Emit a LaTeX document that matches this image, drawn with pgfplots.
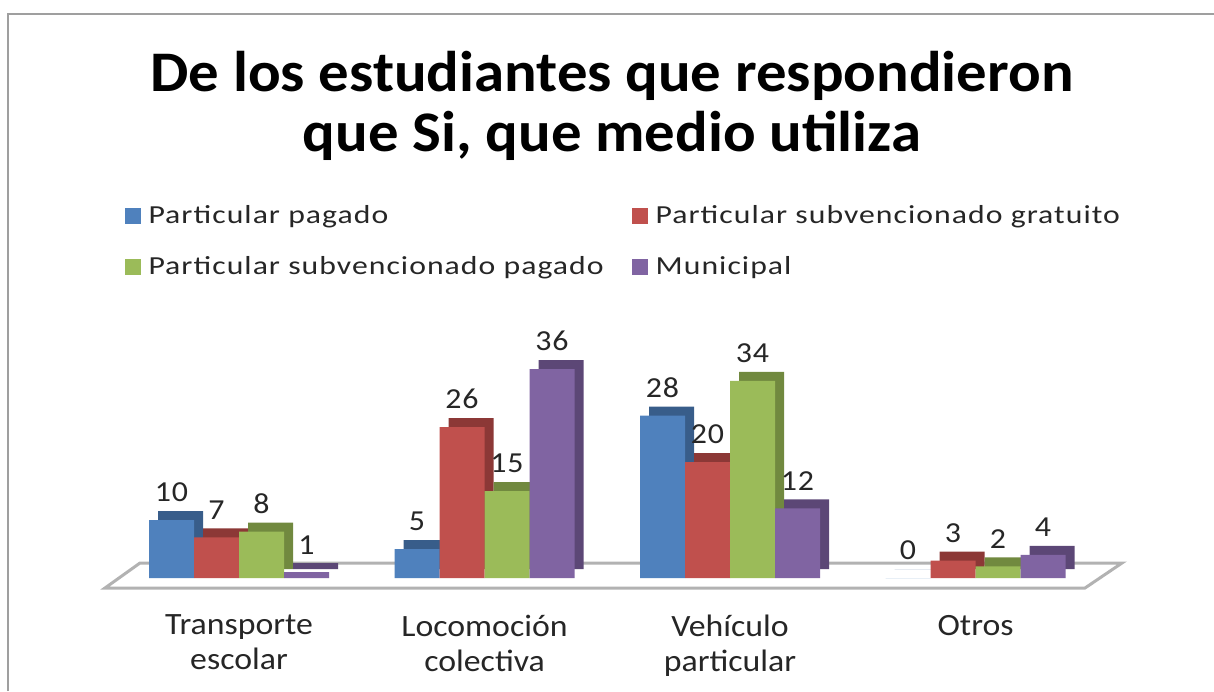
\documentclass[border=0pt]{standalone}
\usepackage{fontspec}
\setmainfont{Carlito}
\newfontfamily\lsLeg[FakeStretch=1.22, LetterSpace=4]{Carlito}
\newfontfamily\lsTick[FakeStretch=1.09]{Carlito}
\newfontfamily\lsLab[FakeStretch=1.1, LetterSpace=3]{Carlito}
\newfontfamily\lsTitle[FakeStretch=1.06]{Carlito}
\usepackage{pgfplots}
\pgfplotsset{compat=1.18}
\definecolor{cBlue}{HTML}{4F81BD}
\definecolor{cBlueD}{HTML}{385D8A}
\definecolor{cRed}{HTML}{C0504D}
\definecolor{cRedD}{HTML}{8C3836}
\definecolor{cGreen}{HTML}{9BBB59}
\definecolor{cGreenD}{HTML}{71893F}
\definecolor{cPurple}{HTML}{8064A2}
\definecolor{cPurpleD}{HTML}{5C4776}
\pgfplotsset{
  front/.style={draw=none, nodes near coords,
    legend image code/.code={\fill[##1] (0pt,-4pt) rectangle (8pt,4pt); \path (10pt,0pt);}},
  side/.style={draw=none, xshift=4.5pt, yshift=4.5pt, forget plot},
}
\begin{document}
\begin{tikzpicture}
\useasboundingbox (0pt,0pt) rectangle (607pt,345.5pt);
\draw[gray!75, line width=1.2pt] (4pt,0pt) -- (4pt,338.5pt) -- (607pt,338.5pt);
\node[font=\lsTitle\fontsize{28.7}{30}\selectfont\bfseries, align=center] at (306pt,292.5pt) {De los estudiantes que respondieron\\que Si, que medio utiliza};
\draw[gray!60, line width=1.5pt, fill=white] (52.5pt,51.5pt) -- (542.5pt,51.5pt) -- (561pt,64pt) -- (70pt,64pt) -- cycle;
\begin{axis}[at={(52pt,56.5pt)}, anchor=south west, scale only axis,
  width=503.3pt, height=116pt,
  xmin=-0.55, xmax=3.55, ymin=0, ymax=40,
  ybar, bar width=22.5pt,
  axis line style={draw=none}, ytick=\empty,
  xtick={0,1,2,3},
  xticklabels={Transporte\\escolar, Locomoción\\colectiva, Vehículo\\particular, Otros},
  xticklabel style={align=center, font=\lsTick\fontsize{15.5}{17.5}\selectfont, yshift=-15pt, text=black!85},
  major tick length=0pt, clip=false,
  /pgf/number format/assume math mode=true,
  nodes near coords style={font=\lsLab\fontsize{14.5}{17}\selectfont, anchor=south, yshift=5.5pt, text=black!85},
  legend style={at={(0.014,1.642)}, anchor=north west, draw=none, fill=none,
    font=\lsLeg\fontsize{13}{15}\selectfont, row sep=11pt, text=black!85,
    /tikz/every even column/.append style={column sep=12pt}},
  legend columns=2, legend cell align=left,
]
\addplot[side, fill=cBlueD, bar shift=-33.75pt] coordinates {(0,10) (1,5) (2,28) (3,0)};
\addplot[front, fill=cBlue, bar shift=-33.75pt] coordinates {(0,10) (1,5) (2,28) (3,0)};
\addplot[side, fill=cRedD, bar shift=-11.25pt] coordinates {(0,7) (1,26) (2,20) (3,3)};
\addplot[front, fill=cRed, bar shift=-11.25pt] coordinates {(0,7) (1,26) (2,20) (3,3)};
\addplot[side, fill=cGreenD, bar shift=11.25pt] coordinates {(0,8) (1,15) (2,34) (3,2)};
\addplot[front, fill=cGreen, bar shift=11.25pt] coordinates {(0,8) (1,15) (2,34) (3,2)};
\addplot[side, fill=cPurpleD, bar shift=33.75pt] coordinates {(0,1) (1,36) (2,12) (3,4)};
\addplot[front, fill=cPurple, bar shift=33.75pt] coordinates {(0,1) (1,36) (2,12) (3,4)};
\legend{Particular pagado, Particular subvencionado gratuito, Particular subvencionado pagado, Municipal}
\end{axis}
\end{tikzpicture}
\end{document}
